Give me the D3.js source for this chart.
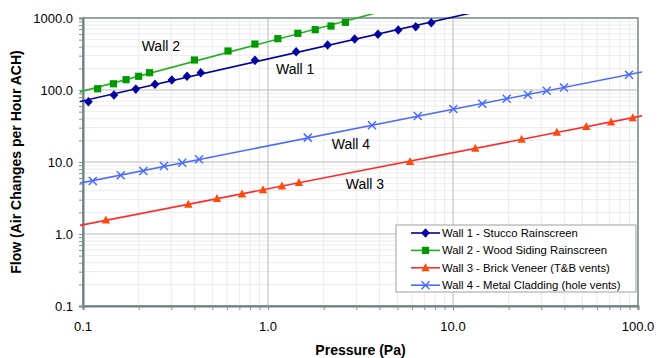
<!DOCTYPE html>
<html>
<head>
<meta charset="utf-8">
<script src="https://cdn.jsdelivr.net/npm/d3@7"></script>
<style>
  body { margin: 0; background: #fff; }
  text { font-family: "Liberation Sans", Arial, sans-serif; fill: #000; }
  .axis-title { font-weight: bold; font-size: 14px; }
  .tick-label { font-size: 13px; }
  .wall-label { font-size: 14px; }
  .legend-text { font-size: 11.3px; }
</style>
</head>
<body>
<div class="chart-container"></div>
<script>
// pressure (Pa) / flow (ACH)
var wall1P = [0.107, 0.147, 0.193, 0.245, 0.302, 0.365, 0.433, 0.85, 1.42, 2.10, 2.94, 3.93, 5.06, 6.29, 7.63];
var wall1Q = [68.8, 85.2, 103, 120, 138, 155, 174, 258, 340, 422, 511, 594, 681, 757, 861];

var wall2P = [0.120, 0.146, 0.171, 0.200, 0.229, 0.400, 0.608, 0.85, 1.13, 1.45, 1.80, 2.19, 2.62];
var wall2Q = [104, 122, 139, 155, 174, 261, 348, 435, 516, 613, 688, 774, 871];

var wall3P = [0.133, 0.371, 0.530, 0.724, 0.94, 1.19, 1.47, 5.86, 13.2, 23.5, 36.4, 52.5, 71.5, 93.6];
var wall3Q = [1.56, 2.59, 3.09, 3.59, 4.12, 4.64, 5.16, 10.1, 15.5, 20.7, 25.9, 30.9, 35.9, 41.2];

var wall4P = [0.113, 0.160, 0.212, 0.274, 0.344, 0.424, 1.64, 3.65, 6.45, 10.04, 14.4, 19.5, 25.4, 32.1, 39.8, 89.4];
var wall4Q = [5.45, 6.54, 7.50, 8.80, 9.78, 10.9, 21.8, 32.3, 43.5, 54.5, 64.5, 75.7, 86.0, 97.8, 108, 163];

var seriesNames = ["Wall 1 - Stucco Rainscreen", "Wall 2 - Wood Siding Rainscreen",
                   "Wall 3 - Brick Veneer (T&B vents)", "Wall 4 - Metal Cladding (hole vents)"];

var xTicks = [0.1, 1, 10, 100];
var yTicks = [0.1, 1, 10, 100, 1000];

// in-chart labels: [text, pressure, flow]
var wallLabels = [["Wall 2", 0.2076, 343], ["Wall 1", 1.105, 167], ["Wall 4", 2.21, 15.2], ["Wall 3", 2.63, 4.18]];

var margin = {top: 18, right: 29, bottom: 52, left: 83},
    width = 667 - margin.left - margin.right,
    height = 358 - margin.top - margin.bottom;

var svg = d3.select(".chart-container")
    .append("svg")
    .attr("width", 667)
    .attr("height", 358)
    .append("g")
    .attr("transform", "translate(" + margin.left + "," + margin.top + ")");

var x = d3.scaleLog().domain([0.1, 100]).range([0, width]);
var y = d3.scaleLog().domain([0.1, 1000]).range([height, 0]);

var fmt = d3.format(".1f");

// minor ticks 2..9 in each decade
function minorTicks(lo, hi) {
    var out = [];
    for (var e = Math.log10(lo); e < Math.log10(hi); e++) {
        for (var k = 2; k <= 9; k++) out.push(k * Math.pow(10, e));
    }
    return out;
}
var xMinor = minorTicks(0.1, 100);
var yMinor = minorTicks(0.1, 1000);

// minor gridlines
svg.append("g").selectAll("line").data(xMinor).enter().append("line")
    .attr("x1", function(d) { return x(d); }).attr("x2", function(d) { return x(d); })
    .attr("y1", 0).attr("y2", height)
    .attr("stroke", "#ececec").attr("stroke-width", 1);
svg.append("g").selectAll("line").data(yMinor).enter().append("line")
    .attr("y1", function(d) { return y(d); }).attr("y2", function(d) { return y(d); })
    .attr("x1", 0).attr("x2", width)
    .attr("stroke", "#ececec").attr("stroke-width", 1);

// major gridlines
svg.append("g").selectAll("line").data(xTicks).enter().append("line")
    .attr("x1", function(d) { return x(d); }).attr("x2", function(d) { return x(d); })
    .attr("y1", 0).attr("y2", height)
    .attr("stroke", "#b9b9b9").attr("stroke-width", 1);
svg.append("g").selectAll("line").data(yTicks).enter().append("line")
    .attr("y1", function(d) { return y(d); }).attr("y2", function(d) { return y(d); })
    .attr("x1", 0).attr("x2", width)
    .attr("stroke", "#b9b9b9").attr("stroke-width", 1);

// plot border
svg.append("rect")
    .attr("width", width).attr("height", height)
    .attr("fill", "none").attr("stroke", "#7f9090").attr("stroke-width", 1.5);

// Add X axis
svg.append("g")
    .attr("transform", "translate(0," + height + ")")
    .call(d3.axisBottom(x).tickValues(xTicks.concat(xMinor)).tickSize(4).tickFormat(""))
    .call(function(g) {
        g.select(".domain").attr("stroke", "#6e8080").attr("stroke-width", 2);
        g.selectAll(".tick line").attr("stroke", "#7f9090");
    });
svg.append("g").selectAll("text").data(xTicks).enter().append("text")
    .attr("class", "tick-label")
    .attr("x", function(d) { return x(d); })
    .attr("y", height + 25)
    .attr("text-anchor", "middle")
    .text(fmt);

// Add Y axis
svg.append("g")
    .call(d3.axisLeft(y).tickValues(yTicks.concat(yMinor)).tickSize(4).tickFormat(""))
    .call(function(g) {
        g.select(".domain").attr("stroke", "#6e8080").attr("stroke-width", 2);
        g.selectAll(".tick line").attr("stroke", "#7f9090");
    });
svg.append("g").selectAll("text").data(yTicks).enter().append("text")
    .attr("class", "tick-label")
    .attr("x", -10)
    .attr("y", function(d) { return y(d); })
    .attr("dy", "0.35em")
    .attr("text-anchor", "end")
    .text(fmt);

svg.append("text")
    .attr("class", "axis-title")
    .attr("text-anchor", "middle")
    .attr("x", width / 2)
    .attr("y", height + 49)
    .text("Pressure (Pa)");
svg.append("text")
    .attr("class", "axis-title")
    .attr("text-anchor", "middle")
    .attr("transform", "rotate(-90)")
    .attr("x", -height / 2)
    .attr("y", -62)
    .text("Flow (Air Changes per Hour ACH)");

// series
var walls = [
    {name: seriesNames[0], p: wall1P, q: wall1Q, line: "#0000a0", fill: "#0000a0", marker: "diamond"},
    {name: seriesNames[1], p: wall2P, q: wall2Q, line: "#22b022", fill: "#009a00", marker: "square"},
    {name: seriesNames[2], p: wall3P, q: wall3Q, line: "#ff2a2a", fill: "#ff4a0a", marker: "triangle"},
    {name: seriesNames[3], p: wall4P, q: wall4Q, line: "#4a6cff", fill: "#4a6cff", marker: "x"}
];

// power-law trendline (least squares in log-log)
function powerFit(px, qy) {
    var n = px.length, sx = 0, sy = 0, sxx = 0, sxy = 0;
    for (var i = 0; i < n; i++) {
        var a = Math.log(px[i]), b = Math.log(qy[i]);
        sx += a; sy += b; sxx += a * a; sxy += a * b;
    }
    var slope = (n * sxy - sx * sy) / (n * sxx - sx * sx);
    var icpt = (sy - slope * sx) / n;
    return function(p) { return Math.exp(icpt) * Math.pow(p, slope); };
}

svg.append("clipPath").attr("id", "clip")
    .append("rect").attr("x", -3).attr("y", -4).attr("width", width + 7).attr("height", height + 4);

var line = d3.line()
    .x(function(d) { return x(d[0]); })
    .y(function(d) { return y(d[1]); });

walls.forEach(function(w) {
    var f = powerFit(w.p, w.q);
    var ends = [0.09, 110].map(function(p) { return [p, f(p)]; });
    svg.append("path")
        .datum(ends)
        .attr("clip-path", "url(#clip)")
        .attr("fill", "none")
        .attr("stroke", w.line)
        .attr("stroke-width", 1.6)
        .attr("d", line);
});

function drawMarker(g, type, color) {
    if (type === "diamond") {
        g.append("path").attr("d", "M0,-4.8L4.3,0L0,4.8L-4.3,0Z").attr("fill", color);
    } else if (type === "square") {
        g.append("rect").attr("x", -3.6).attr("y", -3.6).attr("width", 7.2).attr("height", 7.2).attr("fill", color);
    } else if (type === "triangle") {
        g.append("path").attr("d", "M0,-4.6L4.2,3.4L-4.2,3.4Z").attr("fill", color);
    } else {
        g.append("path").attr("d", "M-4,-4L4,4M-4,4L4,-4")
            .attr("stroke", color).attr("stroke-width", 1.5).attr("fill", "none");
    }
}

walls.forEach(function(w) {
    var pts = w.p.map(function(p, i) { return [p, w.q[i]]; });
    svg.append("g").selectAll("g").data(pts).enter().append("g")
        .attr("transform", function(d) { return "translate(" + x(d[0]) + "," + y(d[1]) + ")"; })
        .each(function() { drawMarker(d3.select(this), w.marker, w.fill); });
});

// in-chart wall labels
svg.append("g").selectAll("text").data(wallLabels).enter().append("text")
    .attr("class", "wall-label")
    .attr("x", function(d) { return x(d[1]); })
    .attr("y", function(d) { return y(d[2]); })
    .text(function(d) { return d[0]; });

// legend
var legend = svg.append("g").attr("transform", "translate(313,207)");
legend.append("rect")
    .attr("width", 240).attr("height", 67)
    .attr("fill", "#fff").attr("stroke", "#a0a0a0").attr("stroke-width", 1);
walls.forEach(function(w, i) {
    var row = legend.append("g").attr("transform", "translate(0," + (8 + i * 17.4) + ")");
    row.append("line").attr("x1", 15).attr("x2", 44).attr("y1", 0).attr("y2", 0)
        .attr("stroke", w.line).attr("stroke-width", 1.6);
    var m = row.append("g").attr("transform", "translate(29.5,0)");
    drawMarker(m, w.marker, w.fill);
    row.append("text").attr("class", "legend-text")
        .attr("x", 46).attr("y", 0).attr("dy", "0.36em")
        .text(w.name);
});
</script>
</body>
</html>
